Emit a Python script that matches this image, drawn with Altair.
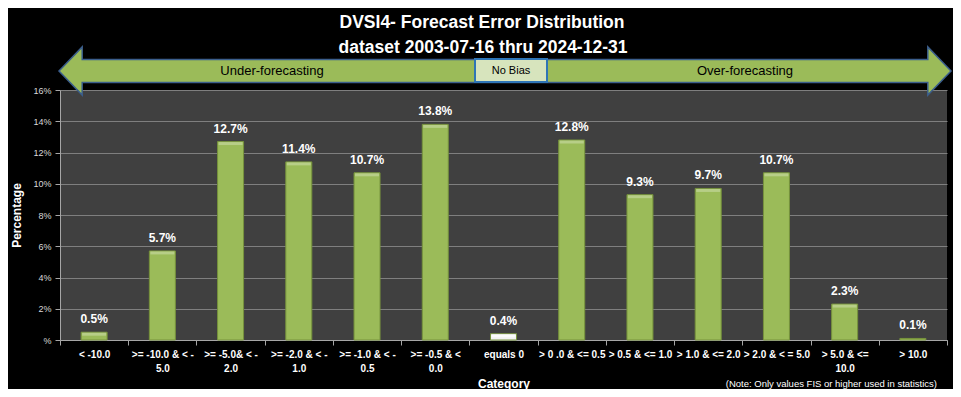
import altair as alt
import pandas as pd

categories = [
    "< -10.0",
    ">= -10.0 & < -\n5.0",
    ">= -5.0& < -\n2.0",
    ">= -2.0 & < -\n1.0",
    ">= -1.0 & < -\n0.5",
    ">= -0.5 & <\n0.0",
    "equals 0",
    "> 0 .0 & <= 0.5",
    "> 0.5 & <= 1.0",
    "> 1.0 & <= 2.0",
    "> 2.0 & < = 5.0",
    "> 5.0 & <=\n10.0",
    "> 10.0",
]
percentages = [0.5, 5.7, 12.7, 11.4, 10.7, 13.8, 0.4, 12.8, 9.3, 9.7, 10.7, 2.3, 0.1]
value_labels = ["0.5%", "5.7%", "12.7%", "11.4%", "10.7%", "13.8%", "0.4%",
                "12.8%", "9.3%", "9.7%", "10.7%", "2.3%", "0.1%"]
y_ticks = [0, 2, 4, 6, 8, 10, 12, 14, 16]

title_lines = ["DVSI4- Forecast Error Distribution", "dataset 2003-07-16  thru 2024-12-31"]
banner_texts = ["Under-forecasting", "No Bias", "Over-forecasting"]
note_text = "(Note: Only values FIS or higher used in statistics)"

df = pd.DataFrame({"category": categories, "pct": percentages, "label": value_labels})

FONT = "Liberation Sans"
W, H = 887, 250

x_enc = alt.X(
    "category:N",
    sort=categories,
    title="Category",
    scale=alt.Scale(paddingInner=0, paddingOuter=0),
    axis=alt.Axis(
        labelExpr="split(datum.label, '\\n')",
        labelAngle=0,
        labelColor="white",
        labelFont=FONT,
        labelFontSize=10,
        labelFontWeight="bold",
        labelLineHeight=14,
        labelPadding=4,
        labelOverlap=False,
        labelLimit=120,
        tickBand="extent",
        tickColor="#A6A6A6",
        tickSize=5,
        domainColor="#A6A6A6",
        titleColor="white",
        titleFont=FONT,
        titleFontSize=12,
        titleFontWeight="bold",
        titlePadding=5,
    ),
)
y_enc = alt.Y(
    "pct:Q",
    title="Percentage",
    scale=alt.Scale(domain=[0, 16], nice=False),
    axis=alt.Axis(
        values=y_ticks,
        labelExpr="datum.value == 0 ? '%' : datum.value + '%'",
        labelColor="#D9D9D9",
        labelFont=FONT,
        labelFontSize=9,
        labelPadding=4,
        labelOverlap=False,
        tickSize=5,
        tickColor="#A6A6A6",
        domainColor="#A6A6A6",
        gridColor="#7F7F7F",
        gridWidth=1,
        titleColor="white",
        titleFont=FONT,
        titleFontSize=12,
        titleFontWeight="bold",
        titlePadding=9,
    ),
)

base = alt.Chart(df)
bars = base.mark_bar(size=26, stroke="#76923C", strokeWidth=1).encode(
    x=x_enc,
    y=y_enc,
    color=alt.condition(alt.datum.category == "equals 0", alt.value("#F2F2F2"), alt.value("#9BBB59")),
)
bevel = base.transform_filter(alt.datum.pct >= 0.3).mark_tick(thickness=3, size=24, yOffset=2).encode(
    x=x_enc,
    y=y_enc,
    color=alt.condition(alt.datum.category == "equals 0", alt.value("#FFFFFF"), alt.value("#C3D69B")),
)
labels = base.mark_text(dy=-13, baseline="middle", font=FONT, fontSize=12,
                        fontWeight="bold", color="white").encode(
    x=x_enc,
    y=y_enc,
    text="label:N",
)

one = pd.DataFrame({"d": [0]})
arrow_path = ("M -1 0 L -0.948 -0.054 L -0.948 -0.026 L 0.948 -0.026 L 0.948 -0.054 "
              "L 1 0 L 0.948 0.054 L 0.948 0.026 L -0.948 0.026 L -0.948 0.054 Z")
arrow = alt.Chart(one).mark_point(
    shape=arrow_path, size=892 * 892, filled=True, fill="#9BBB59", fillOpacity=1,
    stroke="#3B5E8C", strokeWidth=1.5, opacity=1,
).encode(x=alt.value(445), y=alt.value(-19))

nobias = alt.Chart(one).mark_rect(fill="#D7E4BD", stroke="#2E75B6", strokeWidth=2).encode(
    x=alt.value(415), x2=alt.value(487), y=alt.value(-31), y2=alt.value(-8)
)

def txt(s, x, y, size, weight="normal", color="black", align="center"):
    return alt.Chart(one).mark_text(
        font=FONT, fontSize=size, fontWeight=weight, color=color,
        align=align, baseline="middle",
    ).encode(x=alt.value(x), y=alt.value(y), text=alt.value(s))

texts = [
    txt(banner_texts[0], 212, -19, 13),
    txt(banner_texts[1], 451, -19, 11),
    txt(banner_texts[2], 685, -19, 13),
    txt(title_lines[0], 422, -67, 17.5, "bold", "white"),
    txt(title_lines[1], 423, -42, 17.5, "bold", "white"),
    txt(note_text, 877, 294, 9.5, "normal", "white", "right"),
]

chart = alt.layer(bars, bevel, labels, arrow, nobias, *texts).properties(
    width=W,
    height=H,
    padding={"left": 52, "top": 82, "right": 6, "bottom": 49},
    autosize=alt.AutoSizeParams(type="none"),
    background="black",
).configure_view(fill="#404040", stroke=None)

chart.save("out.html", embed_options={"renderer": "svg", "actions": False})
